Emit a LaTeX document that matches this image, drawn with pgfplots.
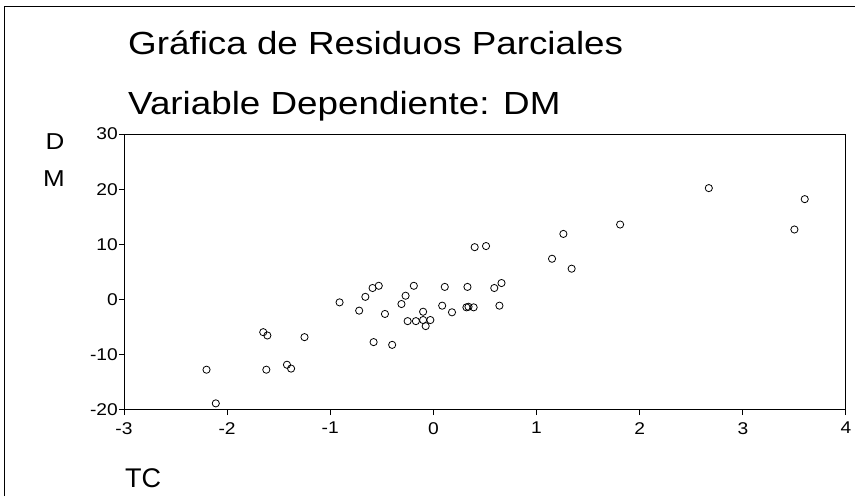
\documentclass[border=0pt]{standalone}
\usepackage{graphicx}
\usepackage{pgfplots}
\pgfplotsset{compat=1.18}
\usepackage{fontspec}
\setmainfont{Liberation Sans}
\newcommand{\s}[1]{\scalebox{1.13}[1]{#1}}
\begin{document}
\begin{tikzpicture}
\path[use as bounding box] (0,0) rectangle (855pt,496pt);
% outer frame (only top and left edges are visible)
\draw[line width=0.8pt] (4pt,0) -- (4pt,490pt) -- (855pt,490pt);
\node[anchor=base west, inner sep=0pt, font=\fontsize{32}{38}\selectfont]
  at (128pt,441pt) {\scalebox{1.15}[1]{Gráfica de Residuos Parciales}};
\node[anchor=base west, inner sep=0pt, font=\fontsize{32}{38}\selectfont]
  at (128pt,381pt) {\scalebox{1.15}[1]{Variable Dependiente: DM}};
\node[anchor=base, inner sep=0pt, font=\fontsize{23}{26}\selectfont] at (55pt,346pt) {\s{D}};
\node[anchor=base, inner sep=0pt, font=\fontsize{23}{26}\selectfont] at (54pt,309pt) {\s{M}};
\node[anchor=base west, inner sep=0pt, font=\fontsize{27}{30}\selectfont] at (125pt,9pt) {TC};
\begin{axis}[
  at={(124pt,86pt)}, anchor=south west,
  scale only axis, width=722pt, height=276pt,
  xmin=-3, xmax=4, ymin=-20, ymax=30,
  xtick={-3,-2,-1,0,1,2,3,4},
  xticklabels={\s{-3},\s{-2},\s{-1},\s{0},\s{1},\s{2},\s{3},\s{4}},
  ytick={-20,-10,0,10,20,30},
  yticklabels={\s{-20},\s{-10},\s{0},\s{10},\s{20},\s{30}},
  xtick pos=left, ytick pos=left,
  tick align=outside, major tick length=5pt,
  axis line style={line width=1pt},
  tick style={black, line width=1pt},
  ticklabel style={font=\fontsize{17}{17}\selectfont},
  yticklabel style={inner sep=1pt},
  xticklabel style={inner sep=0pt, yshift=-7pt},
  clip=false,
]
\addplot[only marks, mark=o, mark size=3.6pt, mark options={line width=0.8pt, black}] coordinates {
(-2.20,-12.7) (-2.11,-18.8) (-1.65,-5.9) (-1.61,-6.5) (-1.62,-12.7)
(-1.42,-11.8) (-1.38,-12.5) (-1.25,-6.8) (-0.91,-0.5) (-0.72,-2.0)
(-0.66,0.5) (-0.59,2.1) (-0.53,2.5) (-0.58,-7.7) (-0.40,-8.2)
(-0.47,-2.6) (-0.31,-0.8) (-0.27,0.7) (-0.19,2.5) (-0.25,-3.9)
(-0.17,-3.9) (-0.10,-2.2) (-0.10,-3.7) (-0.03,-3.7) (-0.075,-4.8)
(0.11,2.3) (0.085,-1.1) (0.18,-2.3) (0.33,2.3) (0.32,-1.4)
(0.34,-1.3) (0.39,-1.4) (0.40,9.5) (0.51,9.7) (0.59,2.1)
(0.66,3.0) (0.64,-1.1) (1.15,7.4) (1.26,11.9) (1.34,5.6)
(1.81,13.6) (2.67,20.2) (3.60,18.2) (3.50,12.7)
};
\end{axis}
\end{tikzpicture}
\end{document}
